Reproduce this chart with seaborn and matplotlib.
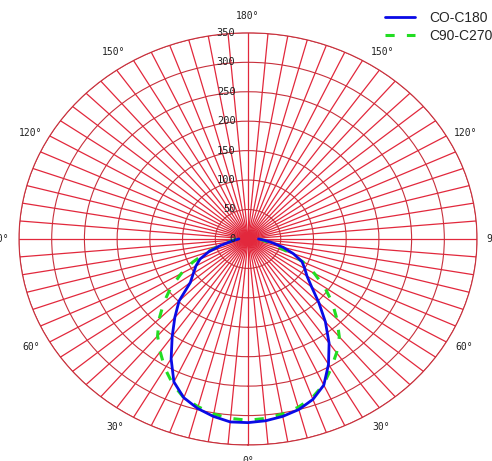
import numpy as np
import pandas as pd
import matplotlib.pyplot as plt
import seaborn as sns

# gamma angles (deg) and intensities
gamma = [0, 5, 10, 15, 20, 25, 30, 35, 40, 45, 50, 55, 60, 65, 70, 75, 80, 85, 90]
c0 = [312, 312, 306, 298, 287, 268, 235, 202, 174, 149, 115, 102, 92, 81, 64, 44, 28, 19, 14]
c180 = [312, 310, 306, 300, 290, 274, 246, 216, 184, 153, 127, 110, 100, 91, 74, 56, 38, 25, 16]
c90 = [308, 306, 302, 295, 287, 272, 254, 234, 215, 192, 168, 144, 118, 93, 68, 46, 30, 22, 18]
c270 = [308, 306, 302, 296, 287, 273, 254, 236, 217, 192, 168, 143, 117, 93, 66, 45, 30, 22, 18]

r_ticks = [0, 50, 100, 150, 200, 250, 300, 350]
angle_labels = [0, 30, 60, 90, 120, 150, 180]
series_names = ['CO-C180', 'C90-C270']


def half_planes(left, right):
    # left half drawn at negative angles, right half at positive ones
    th = np.deg2rad(np.concatenate([-np.array(gamma[::-1]), np.array(gamma[1:])]))
    r = np.concatenate([np.array(left[::-1]), np.array(right[1:])])
    return th, r


th_a, r_a = half_planes(c0, c180)
th_b, r_b = half_planes(c90, c270)
df = pd.concat([
    pd.DataFrame({'theta': th_a, 'r': r_a, 'plane': series_names[0]}),
    pd.DataFrame({'theta': th_b, 'r': r_b, 'plane': series_names[1]}),
])

sns.set_style('white')
fig = plt.figure(figsize=(4.92, 4.61), dpi=100)
ax = fig.add_axes([0.0386, 0.0347, 0.931, 0.894], projection='polar')
ax.set_aspect('auto')
ax.set_theta_zero_location('S')

grid_red = '#e2283c'
ring_red = '#c8303c'

ax.set_ylim(0, 350)
ax.set_yticks(r_ticks)
ax.set_yticklabels([])
# radius labels sit just left of the top spoke
for v in r_ticks:
    ax.annotate(str(v), xy=(np.pi, v), xytext=(-9, 0), textcoords='offset points',
                ha='right', va='center', fontsize=7.5, family='DejaVu Sans Mono',
                color='#222222', zorder=5)

ax.set_xticks(np.deg2rad(np.arange(0, 360, 5)))
ax.set_xticklabels([])
# angle labels outside the rim, nudged away from the vertical axis like the original
nudge = {0: 0, 30: 2.5, 60: 1, 90: 0, 120: -1.5, 150: -3, 180: 0}
for a in angle_labels:
    for side in ([1] if a in (0, 180) else [-1, 1]):
        ax.text(np.deg2rad(side * (a + nudge[a])), 378, f'{a}°', ha='center', va='center',
                fontsize=7, family='DejaVu Sans Mono', color='#222222', clip_on=False)

ax.xaxis.grid(True, color=grid_red, lw=0.9)
ax.yaxis.grid(True, color=ring_red, lw=0.8)
ax.spines['polar'].set_color(ring_red)
ax.spines['polar'].set_linewidth(0.8)

sns.lineplot(data=df[df.plane == series_names[1]], x='theta', y='r', sort=False, ax=ax,
             color='#22dd22', lw=2.2, label=series_names[1], zorder=3)
sns.lineplot(data=df[df.plane == series_names[0]], x='theta', y='r', sort=False, ax=ax,
             color='#0a0ae6', lw=2, label=series_names[0], zorder=4)
ax.lines[-2].set_dashes([3, 4])
ax.set_xlabel('')
ax.set_ylabel('')

h, l = ax.get_legend_handles_labels()
ax.get_legend().remove()
fig.legend(h[::-1], l[::-1], loc='upper left', bbox_to_anchor=(0.771, 0.989), frameon=False,
           borderaxespad=0, prop={'family': 'Liberation Sans', 'size': 10}, handlelength=2.2,
           labelspacing=0.3, handletextpad=1.0)

fig.savefig('out.png', dpi=100)
